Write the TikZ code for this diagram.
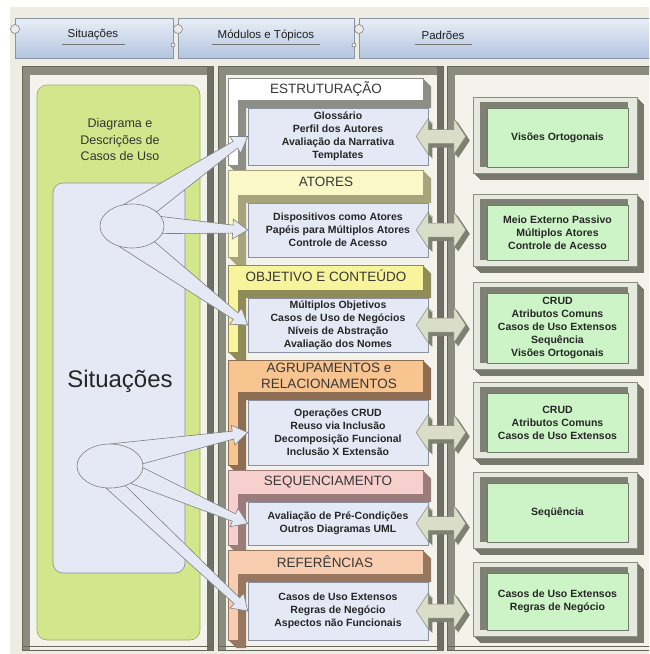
\documentclass[tikz,border=0pt]{standalone}
\usepackage{fontspec}
\setmainfont{Liberation Sans}
\usetikzlibrary{shapes.geometric,calc}
\pgfdeclarelayer{front}
\pgfsetlayers{main,front}

\definecolor{bgc}{HTML}{EDEDE3}
\definecolor{hdrtop}{HTML}{E9EEF6}
\definecolor{hdrbot}{HTML}{B3C5E0}
\definecolor{hdrline}{HTML}{8A95A6}
\definecolor{colin}{HTML}{F3F3EC}
\definecolor{colbar}{HTML}{8A8C7F}
\definecolor{colline}{HTML}{65675B}
\definecolor{leafgreen}{HTML}{D4E68C}
\definecolor{leafline}{HTML}{98AD62}
\definecolor{paleblue}{HTML}{E5E9F6}
\definecolor{blueline}{HTML}{8A90A0}
\definecolor{boxtext}{HTML}{262626}
\definecolor{mint}{HTML}{CCF4C6}
\definecolor{mintline}{HTML}{6F7A6A}
\definecolor{gframe}{HTML}{E6E9DE}
\definecolor{gframeline}{HTML}{8C8E82}
\definecolor{gside}{HTML}{77796C}
\definecolor{gbevel}{HTML}{7F8175}
\definecolor{arrface}{HTML}{DADDC8}
\definecolor{arrline}{HTML}{868878}
\definecolor{arrside}{HTML}{7E8072}
\definecolor{bandAf}{HTML}{FFFFFF}\definecolor{bandAs}{HTML}{8D8E86}
\definecolor{bandBf}{HTML}{FBF8C8}\definecolor{bandBs}{HTML}{A7A47C}
\definecolor{bandCf}{HTML}{F7F49C}\definecolor{bandCs}{HTML}{8F8C58}
\definecolor{bandDf}{HTML}{F8C48F}\definecolor{bandDs}{HTML}{8E6E52}
\definecolor{bandEf}{HTML}{F7CFCD}\definecolor{bandEs}{HTML}{9C7B7B}
\definecolor{bandFf}{HTML}{F8CDB0}\definecolor{bandFs}{HTML}{977760}

\tikzset{
  hdr/.style={draw=hdrline, line width=0.6pt, top color=hdrtop, bottom color=hdrbot},
  hdrtxt/.style={font=\fontsize{11.5}{13}\selectfont, text=black!88, inner sep=0pt},
  uline/.style={draw=black!55, line width=1pt},
  ring/.style={fill=white!92!black, draw=black!55, line width=0.5pt},
  bandtxt/.style={font=\fontsize{13.5}{15.5}\selectfont, text=black!78, align=center, inner sep=0pt},
  mbox/.style={draw=blueline, fill=paleblue, line width=0.5pt, minimum width=180pt, inner sep=0pt,
    font=\bfseries\fontsize{10.5}{13}\selectfont, text=boxtext, align=center},
  gbox/.style={draw=mintline, fill=mint, line width=0.5pt, minimum width=141pt, inner sep=0pt,
    font=\bfseries\fontsize{10.5}{13}\selectfont, text=boxtext, align=center},
  callout/.style={fill=paleblue, draw=black!50, line width=0.6pt, line join=miter},
  bubble/.style={ellipse, fill=paleblue, draw=black!50, line width=0.6pt, inner sep=0pt},
}

% recessed column panel: dark top and left bevel, darker right edge
\newcommand\colframe[2]{%
  \fill[colin] (#1,66) rectangle (#2,650);
  \fill[colbar] (#1,66) rectangle (#2,75);
  \fill[colbar] (#1,66) rectangle ({#1+8},650);
  \fill[colbar!80!black] ({#2-6},66) rectangle (#2,650);
  \draw[colline, line width=0.6pt] (#1,66) rectangle (#2,650);
  \draw[colline, line width=0.8pt] (#1,646) -- (#2,646);
}

% extruded L-shaped band of a module: top, band bottom, arm bottom, face, side
\newcommand\modband[5]{%
  \foreach \k in {1,...,8}{%
    \fill[#5] (228+\k,#1+\k) -- (423+\k,#1+\k) -- (423+\k,#2+\k) -- (238+\k,#2+\k)
      -- (238+\k,#3+\k) -- (228+\k,#3+\k) -- cycle;}
  \filldraw[fill=#4, draw=#5, line width=0.5pt] (228,#1) -- (423,#1) -- (423,#2)
    -- (238,#2) -- (238,#3) -- (228,#3) -- cycle;
}

% framed pattern box: name, top, bottom, text
\newcommand\patbox[4]{%
  \foreach \k in {1,...,7}{\fill[gside] (473+\k,#2-11+\k) rectangle (637+\k,#3+6+\k);}
  \filldraw[fill=gframe, draw=gframeline, line width=0.5pt] (473,#2-11) rectangle (637,#3+6);
  \fill[gbevel] (480,#2-6) rectangle (628,#3);
  \node[gbox, minimum height={(#3-#2)*1pt}] (#1) at (557.5,{(#2+#3)/2}) {#4};
}

% double block arrow between a module box and a pattern box
\newcommand\arrowshape[2]{%
  ($(la)+(-12+#1,#2)$) -- ($(la)+(#1,-18+#2)$) -- ($(la)+(#1,-7+#2)$)
  -- ($(ra)+(-33+#1,-7+#2)$) -- ($(ra)+(-33+#1,-18+#2)$) -- ($(ra)+(-21+#1,#2)$)
  -- ($(ra)+(-33+#1,18+#2)$) -- ($(ra)+(-33+#1,7+#2)$) -- ($(la)+(#1,7+#2)$)
  -- ($(la)+(#1,18+#2)$) -- cycle}
\newcommand\dblarrow[2]{%
  \path (#1.east) coordinate (la) (#2.west |- #1.east) coordinate (ra);
  \foreach \k in {1,...,4}{\fill[arrside] \arrowshape{\k}{\k};}
  \filldraw[fill=arrface, draw=arrline, line width=0.5pt] \arrowshape{0}{0};
}

% tapered callout from a bubble to a module box, ending in an arrow head
\newcommand\callbubble[3]{%
  \path ($#1!0.5!#2$) coordinate (md);
  \path ($#3!15pt!(md)$) coordinate (nk);
  \filldraw[callout] #1 -- ($(nk)!4pt!90:#3$) -- ($(nk)!10pt!90:#3$) -- #3
    -- ($(nk)!10pt!-90:#3$) -- ($(nk)!4pt!-90:#3$) -- #2 -- cycle;
}

\begin{document}
\begin{tikzpicture}[x=1pt,y=-1pt]
\useasboundingbox (0,0) rectangle (649,654);
\clip (0,0) rectangle (649,654);
\fill[white] (0,0) rectangle (649,654);
\fill[bgc] (10,7) rectangle (649,654);

% column headers
\foreach \xa/\xb in {15/173,178/354,359/660}{%
  \path[hdr] (\xa,18) rectangle (\xb,58);
  \filldraw[ring] (\xa,29) circle[radius=4.5pt];
  \filldraw[ring] (\xb,45) circle[radius=2pt];
}
\node[hdrtxt] (h1) at (93,35) {Situações};
\node[hdrtxt] (h2) at (266,35) {Módulos e Tópicos};
\node[hdrtxt] (h3) at (443,35) {Padrões};
\draw[uline] (62,44.5) -- (125,44.5);
\draw[uline] (212,44.5) -- (320,44.5);
\draw[uline] (415,44.5) -- (472,44.5);

% column panels
\colframe{22}{213}
\colframe{218}{443}
\colframe{447}{660}

% situations column
\node[draw=leafline, fill=leafgreen, line width=0.6pt, rounded corners=10pt,
  minimum width=163pt, minimum height=555pt] (usecases) at (118.5,362.5) {};
\node[draw=blueline, fill=paleblue, line width=0.6pt, rounded corners=10pt,
  minimum width=132pt, minimum height=390pt] (scen) at (119,378) {};
\node[font=\fontsize{12.5}{16.5}\selectfont, text=black!80, align=center] (ucdesc)
  at (120,140) {Diagrama e\\Descrições de\\Casos de Uso};
\node[font=\fontsize{24}{26}\selectfont, text=black!85] (sittitle) at (120,381) {Situações};

% module bands
\modband{78}{100}{165}{bandAf}{bandAs}
\modband{170}{195}{257}{bandBf}{bandBs}
\modband{265}{290}{352}{bandCf}{bandCs}
\modband{360}{392}{465}{bandDf}{bandDs}
\modband{470}{494}{545}{bandEf}{bandEs}
\modband{550}{574}{640}{bandFf}{bandFs}

\node[bandtxt] (t1) at (326,89) {ESTRUTURAÇÃO};
\node[bandtxt] (t2) at (326,182) {ATORES};
\node[bandtxt] (t3) at (326,276) {OBJETIVO E CONTEÚDO};
\node[bandtxt] (t4) at (329,376) {AGRUPAMENTOS e\\RELACIONAMENTOS};
\node[bandtxt] (t5) at (328,482) {SEQUENCIAMENTO};
\node[bandtxt] (t6) at (325,562) {REFERÊNCIAS};

% module topic boxes
\node[mbox, minimum height=57pt] (b1) at (338,136.5)
  {Glossário\\Perfil dos Autores\\Avaliação da Narrativa\\Templates};
\node[mbox, minimum height=54pt] (b2) at (338,230)
  {Dispositivos como Atores\\Papéis para Múltiplos Atores\\Controle de Acesso};
\node[mbox, minimum height=54pt] (b3) at (338,325)
  {Múltiplos Objetivos\\Casos de Uso de Negócios\\Níveis de Abstração\\Avaliação dos Nomes};
\node[mbox, minimum height=65pt] (b4) at (338,432.5)
  {Operações CRUD\\Reuso via Inclusão\\Decomposição Funcional\\Inclusão X Extensão};
\node[mbox, minimum height=43pt] (b5) at (338,523.5)
  {Avaliação de Pré-Condições\\Outros Diagramas UML};
\node[mbox, minimum height=58pt] (b6) at (338,611)
  {Casos de Uso Extensos\\Regras de Negócio\\Aspectos não Funcionais};

% pattern boxes
\patbox{g1}{108}{167}{Visões Ortogonais}
\patbox{g2}{205}{260}{Meio Externo Passivo\\Múltiplos Atores\\Controle de Acesso}
\patbox{g3}{293}{363}{CRUD\\Atributos Comuns\\Casos de Uso Extensos\\Sequência\\Visões Ortogonais}
\patbox{g4}{393}{452}{CRUD\\Atributos Comuns\\Casos de Uso Extensos}
\patbox{g5}{483}{542}{Seqüência}
\patbox{g6}{573}{630}{Casos de Uso Extensos\\Regras de Negócio}

% links between modules and patterns
\dblarrow{b1}{g1}
\dblarrow{b2}{g2}
\dblarrow{b3}{g3}
\dblarrow{b4}{g4}
\dblarrow{b5}{g5}
\dblarrow{b6}{g6}

% situation bubbles and their callouts
\begin{pgfonlayer}{front}
  \node[bubble, minimum width=64pt, minimum height=44pt] (e1) at (132,226) {};
  \node[bubble, minimum width=66pt, minimum height=44pt] (e2) at (110,466) {};
\end{pgfonlayer}
\callbubble{(e1.111)}{(e1.30)}{(b1.west)}
\callbubble{(e1.18)}{(e1.-14)}{(b2.west)}
\callbubble{(e1.-35)}{(e1.-122)}{(b3.west)}
\callbubble{(e2.85)}{(e2.4)}{(b4.west)}
\callbubble{(e2.-3)}{(e2.-40)}{(b5.west)}
\callbubble{(e2.-52)}{(e2.-100)}{(b6.west)}
\end{tikzpicture}
\end{document}
